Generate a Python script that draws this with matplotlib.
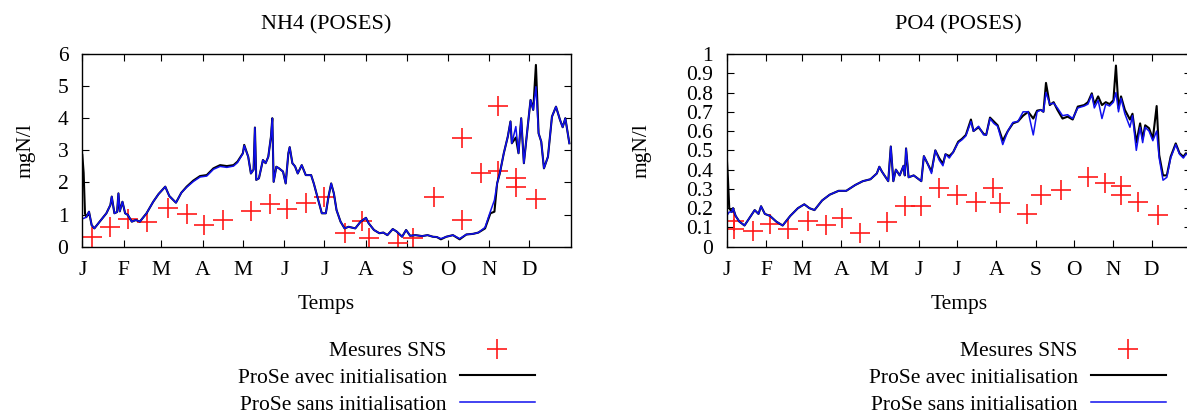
import numpy as np
from matplotlib import pyplot as plt
import matplotlib
matplotlib.rcParams['font.family'] = ['Liberation Serif', 'DejaVu Serif']
matplotlib.rcParams['font.size'] = 15.5

# jours de l'annee (0 = 1er janvier)
mois_pos = [0, 31, 59, 90, 120, 151, 181, 212, 243, 273, 304, 334]
mois_lab = ['J', 'F', 'M', 'A', 'M', 'J', 'J', 'A', 'S', 'O', 'N', 'D']

# NH4 : simulations ProSe
nh4_jours = [0, 1, 2, 3, 5, 7, 9, 13, 18, 21, 22, 24, 26, 27, 28, 30, 32, 34, 37, 40,
             43, 48, 53, 57, 62, 65, 70, 74, 78, 83, 88, 93, 98, 103, 108, 113, 116, 120, 121, 124,
             126, 128, 129, 130, 132, 135, 137, 139, 141, 142, 143, 145, 147, 150, 152, 154, 155, 157, 159, 161,
             164, 167, 171, 173, 177, 179, 182, 184, 186, 188, 190, 193, 196, 199, 204, 208, 212, 214, 218, 222,
             225, 228, 232, 235, 239, 242, 245, 249, 254, 258, 262, 265, 268, 272, 277, 282, 287, 292, 296, 301,
             305, 308, 310, 312, 315, 318, 320, 321, 324, 326, 328, 330, 333, 335, 337, 339, 341, 343, 345, 348,
             351, 354, 357, 359, 361, 364]
nh4_avec = [2.86, 2.3, 1.04, 0.92, 1.09, 0.67, 0.57, 0.78, 1.04, 1.3, 1.56, 1.04, 1.08, 1.66, 1.1, 1.4, 1.04, 0.99, 0.78, 0.83,
            0.78, 1.04, 1.4, 1.64, 1.87, 1.58, 1.37, 1.68, 1.87, 2.06, 2.2, 2.23, 2.44, 2.54, 2.51, 2.54, 2.65, 2.91, 3.17, 2.8,
            2.28, 2.4, 3.71, 2.08, 2.13, 2.7, 2.6, 2.8, 3.43, 4.0, 2.02, 2.49, 2.44, 2.34, 1.97, 2.91, 3.1, 2.6, 2.5, 2.28,
            2.54, 2.23, 2.23, 1.97, 1.35, 1.04, 1.04, 1.56, 1.97, 1.66, 1.14, 0.78, 0.57, 0.62, 0.57, 0.78, 0.9, 0.73, 0.52, 0.42,
            0.44, 0.36, 0.55, 0.47, 0.31, 0.52, 0.34, 0.36, 0.33, 0.36, 0.31, 0.3, 0.23, 0.31, 0.36, 0.23, 0.38, 0.4, 0.44, 0.57,
            1.04, 1.09, 1.97, 2.28, 2.91, 3.43, 3.9, 3.22, 3.4, 2.91, 4.0, 2.6, 3.79, 4.57, 4.26, 5.66, 3.53, 3.27, 2.44, 2.8,
            4.05, 4.36, 3.95, 3.72, 4.0, 3.22]
nh4_sans = [0.88, 0.88, 0.9, 0.92, 1.09, 0.67, 0.57, 0.78, 1.04, 1.3, 1.56, 1.04, 1.08, 1.66, 1.1, 1.4, 1.04, 0.99, 0.78, 0.83,
            0.78, 1.04, 1.4, 1.64, 1.87, 1.58, 1.37, 1.68, 1.85, 2.03, 2.17, 2.2, 2.41, 2.5, 2.47, 2.51, 2.62, 2.9, 3.15, 2.8,
            2.28, 2.4, 3.71, 2.08, 2.13, 2.7, 2.6, 2.8, 3.43, 4.0, 2.02, 2.49, 2.44, 2.34, 1.97, 2.91, 3.1, 2.6, 2.5, 2.28,
            2.54, 2.23, 2.23, 1.97, 1.35, 1.04, 1.04, 1.56, 1.97, 1.66, 1.14, 0.78, 0.57, 0.62, 0.57, 0.78, 0.9, 0.73, 0.52, 0.42,
            0.44, 0.36, 0.55, 0.47, 0.31, 0.52, 0.34, 0.36, 0.33, 0.36, 0.31, 0.3, 0.25, 0.31, 0.36, 0.25, 0.38, 0.4, 0.44, 0.6,
            1.1, 1.45, 1.97, 2.28, 2.91, 3.43, 3.9, 3.22, 3.74, 2.91, 4.0, 2.6, 3.79, 4.57, 4.26, 4.98, 3.53, 3.27, 2.44, 2.8,
            4.05, 4.36, 3.95, 3.72, 4.0, 3.22]
# NH4 : mesures SNS
nh4_mes_jours = [7, 21, 34, 48, 64, 78, 91, 105, 126, 140, 153, 167, 181, 196, 209, 214, 236, 247,
                 263, 284, 284, 298, 311, 311, 324, 324, 339]
nh4_mes = [0.31, 0.62, 0.85, 0.76, 1.19, 1.02, 0.67, 0.83, 1.11, 1.33, 1.16, 1.35, 1.56, 0.44, 0.80, 0.26, 0.10, 0.28,
           1.56, 3.40, 0.83, 2.31, 4.39, 2.36, 2.15, 1.87, 1.49]

# PO4 : simulations ProSe
po4_jours = [0, 1, 2, 4, 5, 7, 10, 14, 18, 22, 25, 27, 30, 34, 39, 44, 50, 56, 61, 65,
             69, 75, 81, 88, 94, 101, 107, 113, 118, 120, 122, 125, 127, 129, 131, 133, 136, 139, 140, 141,
             143, 147, 150, 153, 155, 158, 161, 164, 167, 170, 172, 175, 178, 182, 185, 188, 192, 194, 198, 202,
             204, 207, 210, 213, 217, 221, 225, 229, 233, 237, 241, 244, 247, 249, 251, 254, 257, 260, 264, 268,
             272, 276, 281, 284, 287, 289, 292, 295, 298, 301, 304, 306, 308, 310, 313, 317, 319, 322, 325, 327,
             329, 332, 335, 338, 340, 343, 346, 349, 353, 356, 359, 361, 365]
po4_avec = [0.47, 0.35, 0.2, 0.18, 0.2, 0.16, 0.13, 0.11, 0.15, 0.19, 0.17, 0.21, 0.17, 0.16, 0.13, 0.11, 0.16, 0.2, 0.22, 0.2,
            0.19, 0.24, 0.27, 0.29, 0.29, 0.32, 0.34, 0.35, 0.38, 0.415, 0.39, 0.36, 0.34, 0.52, 0.34, 0.4, 0.37, 0.42, 0.37, 0.51,
            0.36, 0.37, 0.355, 0.34, 0.47, 0.43, 0.39, 0.5, 0.46, 0.43, 0.48, 0.47, 0.49, 0.545, 0.56, 0.58, 0.66, 0.6, 0.62, 0.585,
            0.58, 0.67, 0.65, 0.63, 0.55, 0.6, 0.64, 0.65, 0.68, 0.7, 0.665, 0.706, 0.71, 0.7, 0.85, 0.735, 0.75, 0.71, 0.665, 0.675,
            0.66, 0.727, 0.735, 0.75, 0.796, 0.74, 0.78, 0.735, 0.75, 0.74, 0.76, 0.94, 0.72, 0.78, 0.71, 0.66, 0.69, 0.54, 0.64, 0.56,
            0.63, 0.615, 0.56, 0.73, 0.476, 0.37, 0.37, 0.467, 0.536, 0.485, 0.467, 0.485, 0.47]
po4_sans = [0.16, 0.17, 0.18, 0.18, 0.2, 0.16, 0.13, 0.11, 0.15, 0.19, 0.17, 0.21, 0.17, 0.16, 0.13, 0.11, 0.16, 0.2, 0.22, 0.2,
            0.19, 0.24, 0.27, 0.29, 0.29, 0.32, 0.34, 0.35, 0.38, 0.415, 0.39, 0.36, 0.34, 0.52, 0.34, 0.4, 0.37, 0.42, 0.37, 0.51,
            0.36, 0.37, 0.355, 0.34, 0.47, 0.43, 0.38, 0.5, 0.45, 0.42, 0.48, 0.46, 0.49, 0.54, 0.555, 0.575, 0.65, 0.6, 0.625, 0.58,
            0.58, 0.665, 0.64, 0.625, 0.53, 0.6, 0.645, 0.65, 0.7, 0.7, 0.58, 0.7, 0.71, 0.7, 0.8, 0.74, 0.745, 0.72, 0.68, 0.685,
            0.665, 0.72, 0.73, 0.74, 0.79, 0.72, 0.76, 0.665, 0.74, 0.73, 0.75, 0.8, 0.7, 0.77, 0.69, 0.62, 0.68, 0.5, 0.62, 0.54,
            0.62, 0.6, 0.55, 0.6, 0.46, 0.345, 0.36, 0.46, 0.53, 0.48, 0.46, 0.48, 0.47]
# PO4 : mesures SNS
po4_mes_jours = [6, 6, 21, 34, 48, 64, 78, 91, 105, 126, 140, 153, 167, 181, 196, 209, 215, 236, 247,
                 263, 284, 297, 310, 310, 323, 339]
po4_mes = [0.135, 0.09, 0.083, 0.12, 0.09, 0.133, 0.112, 0.15, 0.07, 0.13, 0.212, 0.213, 0.306, 0.27, 0.23, 0.303, 0.225,
           0.17, 0.27, 0.294, 0.363, 0.332, 0.317, 0.27, 0.234, 0.164]

W, H = 1187, 416
fig = plt.figure(figsize=(W/100, H/100), dpi=100)

panneaux = [
    # titre, jours, avec, sans, mesures jours, mesures, ymax, yticks, yticklabels, rect px, x ylabel px, legende x px
    ("NH4 (POSES)", nh4_jours, nh4_avec, nh4_sans, nh4_mes_jours, nh4_mes, 6,
     list(range(7)), [str(v) for v in range(7)], (82.3, 54, 570.7, 246.7), 36, 535),
    ("PO4 (POSES)", po4_jours, po4_avec, po4_sans, po4_mes_jours, po4_mes, 1,
     [i/10 for i in range(11)], ['0'] + ['0.%d' % i for i in range(1, 10)] + ['1'], (726.7, 54, 1191, 246.7), 651, 1166),
]

for titre, jj, avec, sans, mj, mes, ymax, yt, ytl, (x0, y0, x1, y1), ylx, legx in panneaux:
    ax = fig.add_axes([x0/W, 1 - y1/H, (x1-x0)/W, (y1-y0)/H])
    ax.plot(mj, mes, linestyle='none', marker='+', color='#ff1a1a', markersize=14.5,
            markeredgewidth=1.2, label='Mesures SNS')
    ax.plot(jj, avec, color='black', lw=1.5, label='ProSe avec initialisation')
    ax.plot(jj, sans, color='#1010ee', lw=1.1, label='ProSe sans initialisation')
    ax.set_xlim(0, 365)
    ax.set_ylim(0, ymax)
    ax.set_xticks(mois_pos)
    ax.set_xticklabels(mois_lab)
    ax.set_yticks(yt)
    ax.set_yticklabels(ytl)
    ax.tick_params(direction='in', top=True, right=True, length=5, width=0.8)
    ax.tick_params(axis='x', pad=10)
    ax.tick_params(axis='y', pad=10)
    ax.set_title(titre, pad=18, fontsize=16)
    ax.set_xlabel('Temps')
    ax.xaxis.set_label_coords(0.5, -(295 - y1)/(y1 - y0))
    ax.set_ylabel('mgN/l')
    ax.yaxis.set_label_coords(-(x0 - ylx)/(x1 - x0), 0.5)
    for s in ax.spines.values():
        s.set_linewidth(1.0)
    ax.legend(loc='upper right', bbox_to_anchor=(legx/W, 1 - 341/H), bbox_transform=fig.transFigure,
              frameon=False, markerfirst=False, handlelength=3.5, handletextpad=0.6,
              borderpad=0, borderaxespad=0, labelspacing=0.31)

plt.savefig('out.png', dpi=100)
